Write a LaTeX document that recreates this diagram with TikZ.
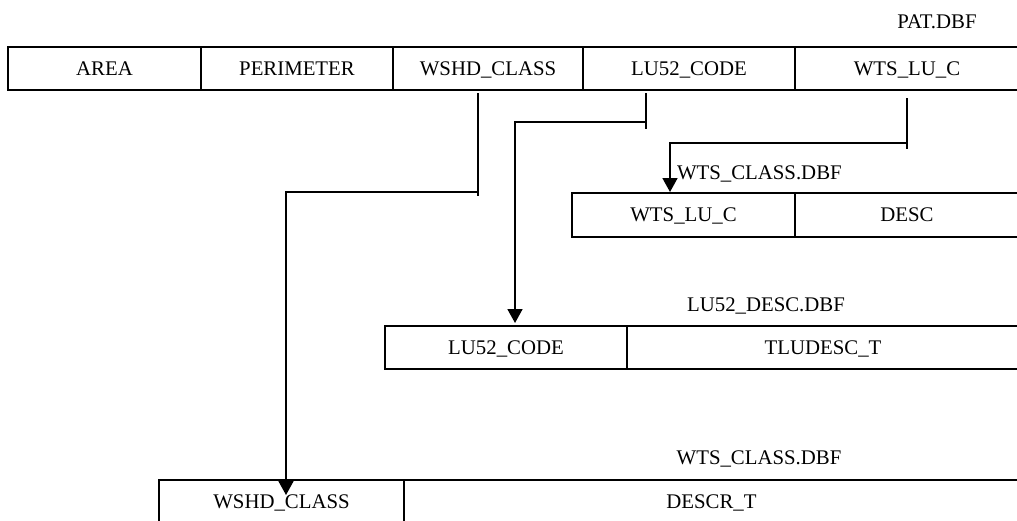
\documentclass[tikz,border=0pt]{standalone}
\usepackage{fontspec}
\setmainfont{Liberation Serif}
\usetikzlibrary{arrows.meta}
\begin{document}
\begin{tikzpicture}[x=1pt,y=-1pt,
  every node/.style={font=\fontsize{20.8}{25}\selectfont, inner sep=0pt, outer sep=0pt, text height=13.8pt, text depth=0pt},
  cell/.style={draw, line width=2pt, minimum height=43pt},
  lbl/.style={},
  conn/.style={line width=1.7pt},
  arr/.style={line width=1.7pt, -{Triangle[length=14pt,width=15pt]}}]
\useasboundingbox (0,0) rectangle (1017,520);
% PAT.DBF table
\node[lbl] (pat) at (937,22) {PAT.DBF};
\node[cell, minimum width=193pt] (area) at (104.5,68.5) {AREA};
\node[cell, minimum width=192pt] (perim) at (297,68.5) {PERIMETER};
\node[cell, minimum width=190pt] (wshd) at (488,68.5) {WSHD\_CLASS};
\node[cell, minimum width=212pt] (lu52) at (689,68.5) {LU52\_CODE};
\node[cell, minimum width=224pt] (wtslu) at (907,68.5) {WTS\_LU\_C};
% WTS_CLASS.DBF (upper)
\node[lbl, anchor=west] (wtsdbf) at (677,173) {WTS\_CLASS.DBF};
\node[cell, minimum width=223pt, minimum height=44pt] (wtsc) at (683.5,215) {WTS\_LU\_C};
\node[cell, minimum width=224pt, minimum height=44pt] (desc) at (907,215) {DESC};
% LU52_DESC.DBF
\node[lbl] (ludbf) at (766,305) {LU52\_DESC.DBF};
\node[cell, minimum width=242pt] (lucode) at (506,347.5) {LU52\_CODE};
\node[cell, minimum width=392pt] (ludesc) at (823,347.5) {TLUDESC\_T};
% WTS_CLASS.DBF (lower)
\node[lbl] (wtsdbf2) at (759,458) {WTS\_CLASS.DBF};
\node[cell, minimum width=245pt, minimum height=44pt] (wscl) at (281.5,502) {WSHD\_CLASS};
\node[cell, minimum width=615pt, minimum height=44pt] (descr) at (711.5,502) {DESCR\_T};
% connector points
\coordinate (s1) at (478,93);
\coordinate (e1) at (478,196);
\coordinate (c1) at (478,192);
\coordinate (t1) at (286,495);
\coordinate (s2) at (646,93);
\coordinate (e2) at (646,129);
\coordinate (c2) at (646,122);
\coordinate (t2) at (515,323);
\coordinate (s3) at (907,98);
\coordinate (e3) at (907,149);
\coordinate (c3) at (907,143);
\coordinate (t3) at (670,192);
% connectors
\draw[conn] (s1) -- (e1);
\draw[arr] (c1) -| (t1);
\draw[conn] (s2) -- (e2);
\draw[arr] (c2) -| (t2);
\draw[conn] (s3) -- (e3);
\draw[arr] (c3) -| (t3);
\end{tikzpicture}
\end{document}
